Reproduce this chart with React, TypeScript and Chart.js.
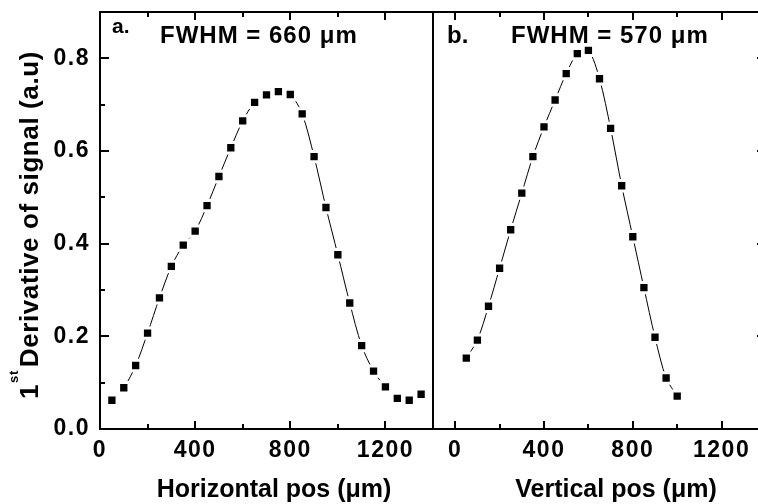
import React, { useEffect, useRef } from 'react';
import { Chart, registerables } from 'chart.js';

Chart.register(...registerables);

const FONT = "'Liberation Sans', Arial, Helvetica, sans-serif";

// Panel a: horizontal scan
const hPos = [50, 100, 150, 200, 250, 300, 350, 400, 450, 500, 550, 600, 650, 700, 750, 800, 850, 900, 950, 1000, 1050, 1100, 1150, 1200, 1250, 1300, 1350];
const hVal = [0.062, 0.089, 0.137, 0.207, 0.283, 0.351, 0.397, 0.427, 0.482, 0.545, 0.607, 0.665, 0.705, 0.721, 0.728, 0.722, 0.68, 0.588, 0.478, 0.376, 0.272, 0.18, 0.125, 0.091, 0.066, 0.062, 0.075];

// Panel b: vertical scan
const vPos = [50, 100, 150, 200, 250, 300, 350, 400, 450, 500, 550, 600, 650, 700, 750, 800, 850, 900, 950, 1000];
const vVal = [0.153, 0.192, 0.265, 0.347, 0.43, 0.509, 0.588, 0.652, 0.71, 0.767, 0.81, 0.817, 0.756, 0.649, 0.525, 0.415, 0.305, 0.198, 0.11, 0.071];

const xTickValues = [0, 200, 400, 600, 800, 1000, 1200, 1400];
const xLabelValues = [0, 400, 800, 1200];
const yTickValues = [0, 0.1, 0.2, 0.3, 0.4, 0.5, 0.6, 0.7, 0.8, 0.9];
const yLabelValues = [0, 0.2, 0.4, 0.6, 0.8];

const titleA = 'FWHM = 660 μm';
const titleB = 'FWHM = 570 μm';
const xTitleA = 'Horizontal pos (μm)';
const xTitleB = 'Vertical pos (μm)';

const isXMajor = (v: number) => xLabelValues.includes(v) || v === 1400;
const isYMajor = (v: number) => yLabelValues.some((l) => Math.abs(l - v) < 1e-6);

function framePlugin(leftTicks: boolean, rightTicks: boolean) {
  return {
    id: 'frame',
    beforeDraw(chart: any) {
      chart.ctx.letterSpacing = '1.5px';
    },
    afterDatasetsDraw(chart: any) {
      const { ctx, chartArea: a, scales } = chart;
      ctx.save();
      ctx.strokeStyle = '#000';
      ctx.lineWidth = 2;
      ctx.strokeRect(a.left, a.top, a.right - a.left, a.bottom - a.top);
      ctx.beginPath();
      for (const v of xTickValues) {
        const px = Math.round(scales.x.getPixelForValue(v));
        const len = isXMajor(v) ? 8 : 5;
        ctx.moveTo(px, a.bottom);
        ctx.lineTo(px, a.bottom - len);
        ctx.moveTo(px, a.top);
        ctx.lineTo(px, a.top + len);
      }
      for (const v of yTickValues) {
        const py = Math.round(scales.y.getPixelForValue(v));
        const len = isYMajor(v) ? 9 : 5;
        if (leftTicks) {
          ctx.moveTo(a.left, py);
          ctx.lineTo(a.left + len, py);
        }
        if (rightTicks) {
          ctx.moveTo(a.right, py);
          ctx.lineTo(a.right - len, py);
        }
      }
      ctx.stroke();
      ctx.restore();
    },
  };
}

function textPlugin(offsetX: number, panel: 'a' | 'b') {
  return {
    id: 'texts',
    afterDraw(chart: any) {
      const ctx = chart.ctx as CanvasRenderingContext2D;
      ctx.save();
      ctx.fillStyle = '#000';
      ctx.textBaseline = 'alphabetic';
      ctx.textAlign = 'left';
      (ctx as any).letterSpacing = '0px';
      if (panel === 'a') {
        ctx.font = `bold 21px ${FONT}`;
        ctx.fillText('a.', 112 - offsetX, 33);
        ctx.font = `bold 24px ${FONT}`;
        (ctx as any).letterSpacing = '1px';
        ctx.fillText(titleA, 160 - offsetX, 42.5);
        (ctx as any).letterSpacing = '0px';
        ctx.font = `bold 25px ${FONT}`;
        ctx.textAlign = 'center';
        ctx.fillText(xTitleA, 274 - offsetX, 497);
        // rotated y title with superscript
        ctx.save();
        ctx.textAlign = 'left';
        ctx.translate(38 - offsetX, 399);
        ctx.rotate(-Math.PI / 2);
        (ctx as any).letterSpacing = '0.6px';
        ctx.font = `bold 26px ${FONT}`;
        ctx.fillText('1', 0, 0);
        let w = ctx.measureText('1').width;
        ctx.font = `bold 13px ${FONT}`;
        ctx.fillText('st', w + 1, -20);
        w += ctx.measureText('st').width + 1;
        ctx.font = `bold 26px ${FONT}`;
        ctx.fillText('Derivative of signal (a.u)', w + 3, 0);
        ctx.restore();
      } else {
        ctx.font = `bold 24px ${FONT}`;
        ctx.fillText('b.', 447 - offsetX, 42.5);
        (ctx as any).letterSpacing = '1px';
        ctx.fillText(titleB, 511 - offsetX, 42.5);
        (ctx as any).letterSpacing = '0px';
        ctx.font = `bold 25px ${FONT}`;
        ctx.textAlign = 'center';
        ctx.fillText(xTitleB, 616 - offsetX, 497);
      }
      ctx.restore();
    },
  };
}

function makeConfig(
  xs: number[],
  ys: number[],
  xMin: number,
  showY: boolean,
  padding: { left: number; right: number },
  plugins: any[]
): any {
  return {
    type: 'line',
    data: {
      datasets: [
        {
          data: xs.map((x, i) => ({ x, y: ys[i] })),
          borderColor: '#000',
          borderWidth: 1,
          tension: 0.3,
          pointStyle: 'rect',
          pointRadius: 7.3,
          pointBackgroundColor: '#000',
          pointBorderColor: '#fff',
          pointBorderWidth: 3,
          fill: false,
          clip: false,
        },
      ],
    },
    options: {
      animation: false,
      responsive: false,
      maintainAspectRatio: false,
      devicePixelRatio: 1,
      layout: { autoPadding: false, padding: { top: 12, bottom: 0, left: padding.left, right: padding.right } },
      plugins: { legend: { display: false }, tooltip: { enabled: false }, title: { display: false } },
      scales: {
        x: {
          type: 'linear',
          min: xMin,
          max: 1400,
          grid: { display: false, drawTicks: false },
          border: { display: false },
          afterBuildTicks: (scale: any) => {
            scale.ticks = xTickValues.map((v) => ({ value: v }));
          },
          afterFit: (scale: any) => {
            scale.height = 75;
            scale.paddingLeft = 0;
            scale.paddingRight = 0;
          },
          ticks: {
            autoSkip: false,
            maxRotation: 0,
            padding: 8,
            color: '#000',
            font: { family: FONT, size: 23, weight: 'bold' },
            callback: (v: number) => (xLabelValues.includes(v) ? String(v) : ''),
          },
        },
        y: {
          type: 'linear',
          display: showY,
          min: 0,
          max: 0.9,
          grid: { display: false, drawTicks: false },
          border: { display: false },
          afterBuildTicks: (scale: any) => {
            scale.ticks = yTickValues.map((v) => ({ value: v }));
          },
          afterFit: (scale: any) => {
            scale.width = showY ? 100 : 0;
            scale.paddingTop = 0;
            scale.paddingBottom = 0;
          },
          ticks: {
            autoSkip: false,
            padding: 10,
            color: '#000',
            font: { family: FONT, size: 23, weight: 'bold' },
            callback: (v: number) => (isYMajor(v) ? v.toFixed(1) : ''),
          },
        },
      },
    },
    plugins,
  };
}

export default function App() {
  const leftRef = useRef<HTMLCanvasElement>(null);
  const rightRef = useRef<HTMLCanvasElement>(null);

  useEffect(() => {
    const charts: Chart[] = [];
    if (leftRef.current) {
      charts.push(
        new Chart(
          leftRef.current,
          makeConfig(hPos, hVal, 0, true, { left: 0, right: 7 }, [framePlugin(true, false), textPlugin(0, 'a')])
        )
      );
    }
    if (rightRef.current) {
      charts.push(
        new Chart(
          rightRef.current,
          makeConfig(vPos, vVal, -100, false, { left: 7, right: 10 }, [framePlugin(false, true), textPlugin(426, 'b')])
        )
      );
    }
    return () => charts.forEach((c) => c.destroy());
  }, []);

  return (
    <div
      style={{
        position: 'fixed',
        left: 0,
        top: 0,
        width: 758,
        height: 504,
        overflow: 'hidden',
        background: '#fff',
      }}
    >
      <canvas
        ref={leftRef}
        width={440}
        height={504}
        style={{ position: 'absolute', left: 0, top: 0, width: 440, height: 504 }}
      />
      <canvas
        ref={rightRef}
        width={350}
        height={504}
        style={{ position: 'absolute', left: 426, top: 0, width: 350, height: 504 }}
      />
    </div>
  );
}
